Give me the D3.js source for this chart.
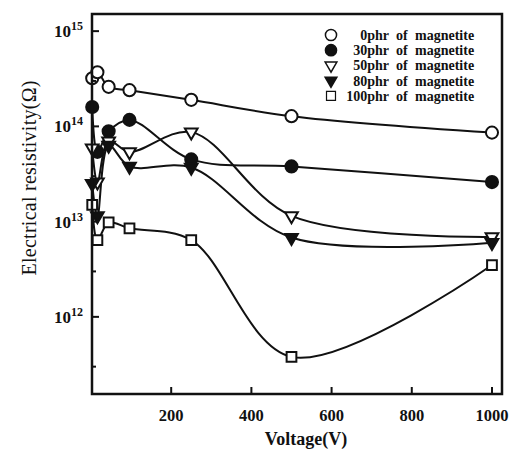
<!DOCTYPE html>
<html>
<head>
<meta charset="utf-8">
<script src="https://cdnjs.cloudflare.com/ajax/libs/d3/7.8.5/d3.min.js"></script>
<style>
body { margin:0; background:#fff; }
text { font-family:"Liberation Serif","DejaVu Serif",serif; fill:#111; }
</style>
</head>
<body>
<svg id="chart"></svg>
<script>
// voltages (V)
var voltage = [3, 16, 44, 96, 250, 500, 1000];

// resistivity (ohm) for each loading
var phr0   = [3.2e14, 3.7e14, 2.6e14, 2.4e14, 1.9e14, 1.28e14, 8.6e13];
var phr30  = [1.6e14, 5.4e13, 8.9e13, 1.17e14, 4.5e13, 3.8e13, 2.6e13];
var phr50  = [5.9e13, 2.6e13, 7.0e13, 5.4e13, 8.7e13, 1.15e13, 6.9e12];
var phr80  = [2.5e13, 1.15e13, 6.3e13, 3.8e13, 3.7e13, 6.8e12, 6.0e12];
var phr100 = [1.5e13, 6.4e12, 9.8e12, 8.5e12, 6.4e12, 3.8e11, 3.5e12];

var seriesNames = ["0phr", "30phr", "50phr", "80phr", "100phr"];
var xTicks = [200, 400, 600, 800, 1000];
var yMajor = [1e12, 1e13, 1e14, 1e15];
var yMinor = [3e11, 3e12, 3e13, 3e14];

var screen = {width:512, height:454};
var frame = {left:92, top:14, right:502, bottom:394};

var svg = d3.select("#chart")
    .attr("width", screen.width)
    .attr("height", screen.height);

var xScale = d3.scaleLinear()
    .domain([0, 1025])
    .range([frame.left - 1, frame.right]);

var yScale = d3.scaleLog()
    .domain([Math.pow(10, 11.19), Math.pow(10, 15.18)])
    .range([frame.bottom, frame.top]);

var series = [
    {name:"0phr",   values:phr0,   symbol:d3.symbolCircle,   size:115, fill:"#fff", rot:0},
    {name:"30phr",  values:phr30,  symbol:d3.symbolCircle,   size:115, fill:"#111", rot:0},
    {name:"50phr",  values:phr50,  symbol:d3.symbolTriangle, size:70,  fill:"#fff", rot:180},
    {name:"80phr",  values:phr80,  symbol:d3.symbolTriangle, size:70,  fill:"#111", rot:180},
    {name:"100phr", values:phr100, symbol:d3.symbolSquare,   size:95,  fill:"#fff", rot:0}
];

//curves
var line = d3.line()
    .x(function(d){ return xScale(d[0]); })
    .y(function(d){ return yScale(d[1]); })
    .curve(d3.curveCatmullRom.alpha(0.5));

var plot = svg.append("g").classed("graph", true);

series.forEach(function(s)
{
    var pts = voltage.map(function(v, i){ return [v, s.values[i]]; });
    plot.append("path")
        .attr("d", line(pts))
        .attr("fill", "none")
        .attr("stroke", "#111")
        .attr("stroke-width", 2);
});

//markers
series.forEach(function(s)
{
    var pts = voltage.map(function(v, i){ return [v, s.values[i]]; });
    plot.selectAll(null)
        .data(pts)
        .enter()
        .append("path")
        .attr("d", d3.symbol().type(s.symbol).size(s.size))
        .attr("transform", function(d)
        {
            return "translate(" + xScale(d[0]) + "," + yScale(d[1]) + ") rotate(" + s.rot + ")";
        })
        .attr("fill", s.fill)
        .attr("stroke", "#111")
        .attr("stroke-width", 2);
});

//frame
svg.append("rect")
    .attr("x", frame.left)
    .attr("y", frame.top)
    .attr("width", frame.right - frame.left)
    .attr("height", frame.bottom - frame.top)
    .attr("fill", "none")
    .attr("stroke", "#111")
    .attr("stroke-width", 2.5);

//y ticks
svg.selectAll(".ymaj")
    .data(yMajor)
    .enter()
    .append("line")
    .attr("x1", frame.left)
    .attr("x2", frame.left + 7)
    .attr("y1", function(d){ return yScale(d); })
    .attr("y2", function(d){ return yScale(d); })
    .attr("stroke", "#111")
    .attr("stroke-width", 2);

svg.selectAll(".ymin")
    .data(yMinor)
    .enter()
    .append("line")
    .attr("x1", frame.left)
    .attr("x2", frame.left + 4)
    .attr("y1", function(d){ return yScale(d); })
    .attr("y2", function(d){ return yScale(d); })
    .attr("stroke", "#111")
    .attr("stroke-width", 2);

var yLabels = svg.selectAll(".ylab")
    .data(yMajor)
    .enter()
    .append("text")
    .attr("x", 83)
    .attr("y", function(d){ return yScale(d) + 6; })
    .attr("text-anchor", "end")
    .attr("font-size", 17)
    .attr("font-weight", "bold");
yLabels.append("tspan").text("10");
yLabels.append("tspan")
    .attr("dy", -7)
    .attr("font-size", 12)
    .text(function(d){ return Math.round(Math.log10(d)); });

//x ticks
svg.selectAll(".xtick")
    .data(xTicks)
    .enter()
    .append("line")
    .attr("x1", function(d){ return xScale(d); })
    .attr("x2", function(d){ return xScale(d); })
    .attr("y1", frame.bottom)
    .attr("y2", frame.bottom - 7)
    .attr("stroke", "#111")
    .attr("stroke-width", 2);

svg.selectAll(".xlab")
    .data(xTicks)
    .enter()
    .append("text")
    .attr("x", function(d){ return xScale(d); })
    .attr("y", 421)
    .attr("text-anchor", "middle")
    .attr("font-size", 16.5)
    .attr("font-weight", "bold")
    .text(function(d){ return d; });

//titles
svg.append("text")
    .attr("x", 306)
    .attr("y", 445)
    .attr("text-anchor", "middle")
    .attr("font-size", 18)
    .attr("font-weight", "bold")
    .text("Voltage(V)");

svg.append("text")
    .attr("transform", "translate(36,178) rotate(-90)")
    .attr("text-anchor", "middle")
    .attr("font-size", 20)
    .attr("textLength", 195)
    .attr("lengthAdjust", "spacing")
    .text("Electrical resistivity(Ω)");

//legend
var legend = svg.append("g").classed("legend", true);
series.forEach(function(s, i)
{
    var y = 35 + i * 15.2;
    legend.append("path")
        .attr("d", d3.symbol().type(s.symbol).size(s.size * 0.85))
        .attr("transform", "translate(331," + y + ") rotate(" + s.rot + ")")
        .attr("fill", s.fill)
        .attr("stroke", "#111")
        .attr("stroke-width", s.symbol === d3.symbolSquare ? 1.2 : 1.5);
    legend.append("text")
        .attr("x", 389).attr("y", y + 5)
        .attr("text-anchor", "end")
        .attr("font-size", 14)
        .attr("font-weight", "bold")
        .text(seriesNames[i]);
    legend.append("text")
        .attr("x", 396).attr("y", y + 5)
        .attr("font-size", 14)
        .attr("font-weight", "bold")
        .text("of");
    legend.append("text")
        .attr("x", 415).attr("y", y + 5)
        .attr("font-size", 14)
        .attr("font-weight", "bold")
        .text("magnetite");
});
</script>
</body>
</html>
